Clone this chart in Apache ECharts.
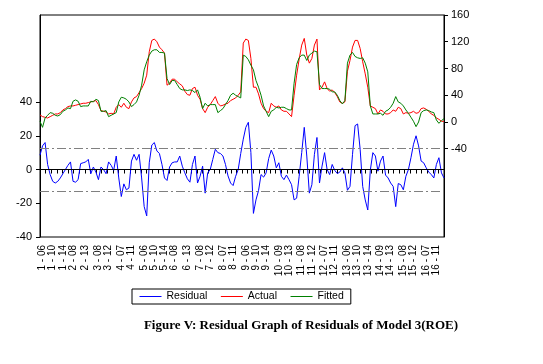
<!DOCTYPE html>
<html>
<head>
<meta charset="utf-8">
<script src="https://cdn.jsdelivr.net/npm/echarts@6/dist/echarts.min.js"></script>
<style>
html,body{margin:0;padding:0;background:#fff;}
#c{width:543px;height:364px;}
</style>
</head>
<body>
<div id="c"></div>
<script>
// Observations: cross-section 1..16, periods 05..14
var companies = [1,2,3,4,5,6,7,8,9,10,11,12,13,14,15,16];
var periods = ['05','06','07','08','09','10','11','12','13','14'];

// Tick labels shown on the x axis
var shownLabels = ['1 - 06','1 - 10','1 - 14','2 - 08','2 - 13','3 - 08','3 - 12','4 - 07','4 - 11',
  '5 - 06','5 - 10','5 - 14','6 - 08','6 - 13','7 - 08','7 - 12','8 - 07','8 - 11','9 - 06','9 - 10',
  '9 - 14','10 - 09','10 - 13','11 - 08','11 - 12','12 - 07','12 - 11','13 - 06','13 - 10','13 - 14',
  '14 - 09','14 - 13','15 - 08','15 - 12','16 - 07','16 - 11'];

var residual = [
  8.5,14,16,3,-3,-7,-8,-7,-5,-2.5,
  0,2.5,4.5,-7,-7.5,-6,3.5,4,4.5,6,
  -2.5,1.5,-1.5,-6,1.5,0,-2.5,4.5,2.5,-0.5,
  8,-5,-16,-8.5,-12,-11,5,9,5.5,9,
  -5,-22,-27.5,4,14.5,16,11,9.5,3,-5,
  -6.5,1.5,4,4.5,4.5,8,2,-2,-5.5,-7.5,
  3,8,-8,-4,2,-14,-2,0,6,12,
  10,9.5,8,3,-3.8,-8,-9.5,-4,0,9.5,
  18,25,28,10,-26,-18,-12.5,-3,-4.5,-2,
  6.5,11.5,8,1,4,-4,-6,-3.3,-6,-9,
  -18,-17,-4,10,25,8,-14,-9,9,19,
  -8,2,10,0,-3,3,-0.5,-2.4,-1.5,1,
  -2,-12.3,-10,9,26,27,12,-10,-18,-24,
  -0.4,10,8,-1,5,8,-3.3,-5,-8,-10,
  -22,-8.3,-9,-12,-4,0,7,15,20,14,
  5,4,1,-1.5,-3,-5,3,7,-2,-5
];

var actual = [
  10.5,8,7,6,8,10,12,12,14,18,
  20,23,24,24,25,26,27,28,28,29,
  30,31,32,26,17,16,15,12,13,12,
  22,26,22,28,22,20,30,36,38,44,
  50,58,70,105,122,124,120,112,108,103,
  55,58,64,64,60,57,54,46,41,40,
  50,52,40,34,20,14,22,26,32,38,
  28,24,25,27,28,32,34,36,40,45,
  118,124,122,95,52,52,42,28,20,16,
  14,28,24,22,24,18,16,16,12,8,
  40,70,94,115,125,100,88,95,115,124,
  48,52,60,50,46,48,44,38,30,28,
  30,76,92,112,122,122,110,90,72,52,
  24,22,20,12,18,16,12,12,14,18,
  16,22,20,12,14,13,14,16,13,14,
  20,21,19,16,12,10,6,4,1,1
];

var fitted = [
  1,-8,6,10,14,13,10,9,11,16,
  18,21,20,31,33,31,23,24,24,24,
  31,30,34,32,16,16,17,8,10,12,
  14,30,37,36,34,30,23,26,30,40,
  55,78,90,100,106,108,108,104,104,103,
  65,56,62,62,56,50,48,48,47,48,
  47,44,48,37,20,28,24,26,26,26,
  14,17,20,26,32,40,43,40,38,36,
  100,98,93,85,78,62,52,40,24,16,
  8,16,18,22,21,22,22,20,18,18,
  58,86,96,100,100,92,100,103,106,105,
  56,50,50,50,49,45,45,40,32,27,
  32,88,100,104,98,96,95,96,88,75,
  24,12,12,12,13,10,16,18,22,28,
  38,30,28,24,18,13,7,1,-7,0,
  14,17,18,17,15,14,3,-2,2,5
];

var leftTicks = [-40,-20,0,20,40];
var rightTicks = [-40,0,40,80,120,160];

var categories = [];
companies.forEach(function(c){ periods.forEach(function(p){ categories.push(c + ' - ' + p); }); });
var labelPos = shownLabels.map(function(l){ return categories.indexOf(l); });
var n = categories.length;
var minorTicks = [];
for (var k = 0; k <= 72; k++) minorTicks.push(k * (n - 1) / 72);

function pairs(arr){ return arr.map(function(v,i){ return [i, v]; }); }

var chart = echarts.init(document.getElementById('c'), null, {renderer:'canvas'});
var font = 'Liberation Sans, Arial, sans-serif';
chart.setOption({
  animation: false,
  backgroundColor: '#fff',
  title: {
    text: 'Figure V: Residual Graph of Residuals of Model 3(ROE)',
    left: 296, textAlign: 'center', top: 314,
    textStyle: {fontFamily: 'Liberation Serif, Times New Roman, serif', fontWeight: 'bold', fontSize: 13, color: '#000'}
  },
  legend: {
    data: ['Residual','Actual','Fitted'],
    left: 132, top: 289,
    itemWidth: 22, itemHeight: 10, itemGap: 13,
    itemStyle: {opacity: 0},
    lineStyle: {width: 1},
    borderColor: '#000', borderWidth: 1, borderRadius: 0,
    padding: [2, 7, 2, 7],
    textStyle: {fontFamily: font, fontSize: 10.5, color: '#000'}
  },
  grid: {left: 40, right: 99, top: 15, bottom: 127, show: true, borderColor: '#000', borderWidth: 1, containLabel: false},
  xAxis: {
    type: 'value', min: 0, max: n - 1,
    axisLine: {show: true, lineStyle: {color: '#000', width: 1}},
    axisTick: {show: true, customValues: minorTicks, length: 4, lineStyle: {color: '#000'}},
    axisLabel: {
      customValues: labelPos, rotate: 90, margin: 8,
      fontFamily: font, fontSize: 10, color: '#000',
      formatter: function(v){ return categories[Math.round(v)] || ''; }
    },
    splitLine: {show: false}
  },
  yAxis: [
    {
      type: 'value', position: 'left', min: -40, max: 91.6,
      axisLine: {show: true, lineStyle: {color: '#000'}},
      axisTick: {show: true, customValues: leftTicks, length: 4, lineStyle: {color: '#000'}},
      axisLabel: {customValues: leftTicks, fontFamily: font, fontSize: 11, color: '#000', margin: 8},
      splitLine: {show: false}
    },
    {
      type: 'value', position: 'right', min: -172, max: 160,
      axisLine: {show: true, lineStyle: {color: '#000'}},
      axisTick: {show: true, customValues: rightTicks, length: 4, lineStyle: {color: '#000'}},
      axisLabel: {customValues: rightTicks, fontFamily: font, fontSize: 11, color: '#000', margin: 7},
      splitLine: {show: false}
    }
  ],
  series: [
    {
      name: 'Residual', type: 'line', yAxisIndex: 0, data: pairs(residual),
      symbol: 'none', lineStyle: {color: '#0000FF', width: 1}, itemStyle: {color: '#0000FF'},
      markLine: {
        silent: true, symbol: 'none', label: {show: false},
        data: [
          {yAxis: 0, lineStyle: {color: '#000', type: 'solid', width: 1}},
          {yAxis: 12.6, lineStyle: {color: '#808080', type: [9, 3, 2, 3], width: 1}},
          {yAxis: -12.6, lineStyle: {color: '#808080', type: [9, 3, 2, 3], width: 1}}
        ]
      }
    },
    {
      name: 'Actual', type: 'line', yAxisIndex: 1, data: pairs(actual),
      symbol: 'none', lineStyle: {color: '#FF0000', width: 1}, itemStyle: {color: '#FF0000'}
    },
    {
      name: 'Fitted', type: 'line', yAxisIndex: 1, data: pairs(fitted),
      symbol: 'none', lineStyle: {color: '#008000', width: 1}, itemStyle: {color: '#008000'}
    }
  ]
});
</script>
</body>
</html>
